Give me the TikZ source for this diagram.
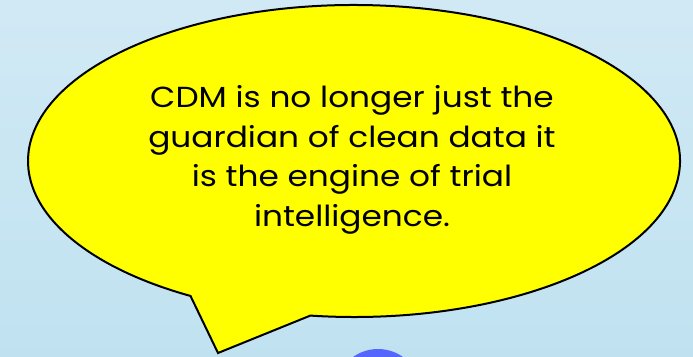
\documentclass[tikz,border=0pt]{standalone}
\usepackage{fontspec}
\setmainfont[FakeStretch=1.13]{Poppins}
\usetikzlibrary{calc}
\definecolor{bgtop}{RGB}{209,233,245}
\definecolor{bgbot}{RGB}{192,226,240}
\definecolor{bubblefill}{RGB}{255,255,0}
\definecolor{ballblue}{RGB}{85,102,255}
\begin{document}
\begin{tikzpicture}[x=1pt,y=1pt,
  bubble/.style={fill=bubblefill,draw=black,line width=2pt,line join=miter},
  msg/.style={align=center,font=\fontsize{29}{39.5}\selectfont,text=black,inner sep=0pt}]
\useasboundingbox (0,0) rectangle (693,356);
\shade[top color=bgtop,bottom color=bgbot] (0,0) rectangle (693,356);
\coordinate (c) at (354,195);
\coordinate (tip) at (218,3);
\fill[ballblue] (378,-36) circle[radius=43pt];
\draw[bubble] ($(c)+(262.3:326pt and 156pt)$) arc[start angle=262.3,end angle=599.9,x radius=326pt,y radius=156pt] -- (tip) -- cycle;
\node[msg] (t) at (352,196) {CDM is no longer just the\\guardian of clean data it\\is the engine of trial\\intelligence.};
\end{tikzpicture}
\end{document}
